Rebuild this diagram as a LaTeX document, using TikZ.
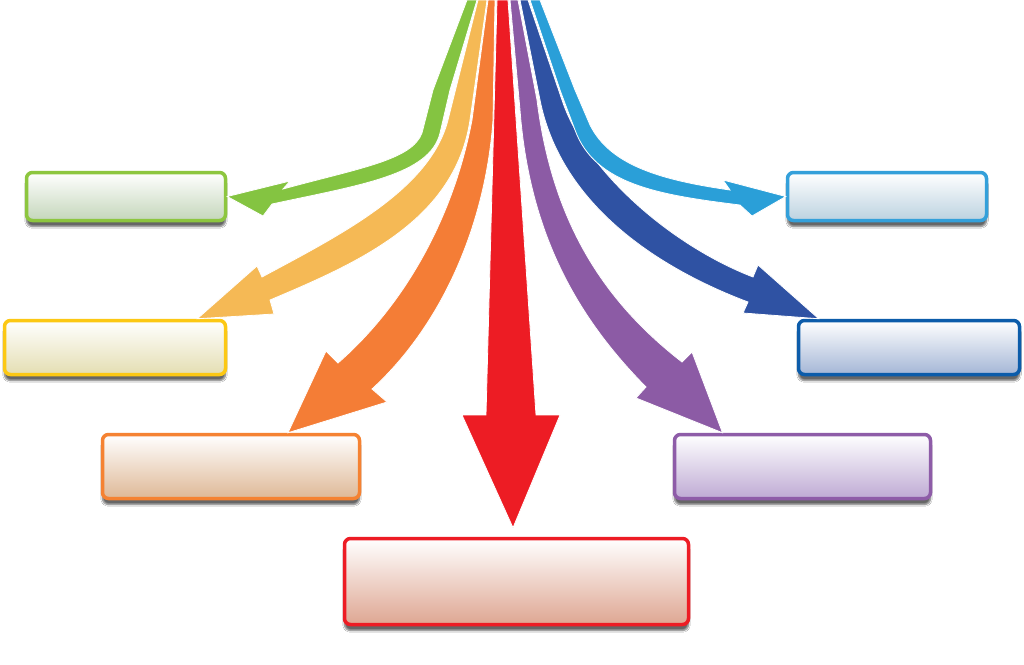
\documentclass[tikz,border=0pt]{standalone}
\usepackage{tikz}
\usetikzlibrary{arrows.meta, calc, positioning, shadows.blur}

\definecolor{grnline}{RGB}{141,198,63}
\definecolor{grnfill}{RGB}{196,214,186}
\definecolor{ylwline}{RGB}{252,200,20}
\definecolor{ylwfill}{RGB}{228,222,178}
\definecolor{orgline}{RGB}{245,130,50}
\definecolor{orgfill}{RGB}{222,184,150}
\definecolor{redline}{RGB}{237,28,36}
\definecolor{redfill}{RGB}{222,166,146}
\definecolor{purline}{RGB}{142,92,168}
\definecolor{purfill}{RGB}{190,170,212}
\definecolor{navline}{RGB}{12,92,170}
\definecolor{navfill}{RGB}{164,182,214}
\definecolor{bluline}{RGB}{52,160,218}
\definecolor{blufill}{RGB}{188,210,224}

\definecolor{grnarr}{RGB}{132,196,65}
\definecolor{ylwarr}{RGB}{245,185,85}
\definecolor{orgarr}{RGB}{244,125,54}
\definecolor{redarr}{RGB}{237,28,36}
\definecolor{purarr}{RGB}{140,91,165}
\definecolor{navarr}{RGB}{47,82,163}
\definecolor{bluarr}{RGB}{42,159,216}

\tikzset{
  box/.style 2 args={draw=#1, line width=3.5pt, rounded corners=6pt,
    top color=white, bottom color=#2,
    blur shadow={shadow xshift=0pt, shadow yshift=-6pt, shadow opacity=60, shadow blur steps=6}},
  band/.style={fill=#1, draw=white, line width=0.8pt, line join=miter}
}

\begin{document}
\begin{tikzpicture}[>=Latex, x=1pt, y=-1pt]
  \useasboundingbox (0,0) rectangle (1024,664);
  \fill[white] (0,0) rectangle (1024,664);

  \foreach \name/\cx/\cy/\w/\h/\ln/\fl in {
      greenbox/126/196.5/199pt/48pt/grnline/grnfill,
      yellowbox/115/347.5/221pt/54pt/ylwline/ylwfill,
      orangebox/231/466.5/257pt/64pt/orgline/orgfill,
      redbox/516.5/581.5/344pt/86pt/redline/redfill,
      purplebox/802.5/466.5/256pt/64pt/purline/purfill,
      navybox/909/347.5/221pt/54pt/navline/navfill,
      bluebox/887/196.5/199pt/48pt/bluline/blufill} {
    \node[box={\ln}{\fl}, minimum width=\w, minimum height=\h] (\name) at (\cx,\cy) {};
  }

  \coordinate (gtip) at (greenbox.east);
  \coordinate (ytip) at ($(yellowbox.north east)+(-30,0)$);
  \coordinate (otip) at ($(orangebox.north)+(57,0)$);
  \coordinate (rtip) at ($(redbox.north)+(-3.5,-9)$);
  \coordinate (ptip) at ($(purplebox.north)+(-80,0)$);
  \coordinate (ntip) at ($(navybox.north west)+(22,0)$);
  \coordinate (btip) at (bluebox.west);

  \fill[band=grnarr] (467,0) -- (433,90) -- (422,133) .. controls (412,160) and (360,168) .. (283,189)
    -- (290,181) -- (gtip) -- (263,216) -- (272,204)
    .. controls (360,185) and (430,175) .. (440,133) -- (450,90) -- (477,0) -- cycle;
  \fill[band=ylwarr] (478,0) -- (448,120) .. controls (430,190) and (340,235) .. (262,277)
    -- (257,266) -- (ytip) -- (274,314) -- (270,300)
    .. controls (360,262) and (455,220) .. (470,120) -- (487,0) -- cycle;
  \fill[band=orgarr] (488,0) -- (472,120) .. controls (455,210) and (410,300) .. (338,363)
    -- (326,351) -- (otip) -- (387,402) -- (372,389)
    .. controls (445,322) and (486,220) .. (493,120) -- (495,0) -- cycle;
  \fill[band=redarr] (497,0) -- (486,415) -- (462,415) -- (rtip) -- (560,415) -- (536,415) -- (508,0) -- cycle;
  \fill[band=purarr] (518,0) -- (537,100) .. controls (552,220) and (602,300) .. (682,362)
    -- (692,352) -- (ptip) -- (636,398) -- (646,387)
    .. controls (582,322) and (530,240) .. (520,110) -- (510,0) -- cycle;
  \fill[band=navarr] (528,0) -- (562,100) .. controls (585,170) and (670,245) .. (753,277)
    -- (758,265) -- (ntip) -- (743,313) -- (748,302)
    .. controls (650,265) and (560,200) .. (540,100) -- (520,0) -- cycle;
  \fill[band=bluarr] (540,0) -- (575,90) -- (590,125) .. controls (610,165) and (660,180) .. (730,190)
    -- (723,180) -- (btip) -- (752,216) -- (740,205)
    .. controls (660,195) and (595,185) .. (575,130) -- (560,90) -- (530,0) -- cycle;
\end{tikzpicture}
\end{document}
